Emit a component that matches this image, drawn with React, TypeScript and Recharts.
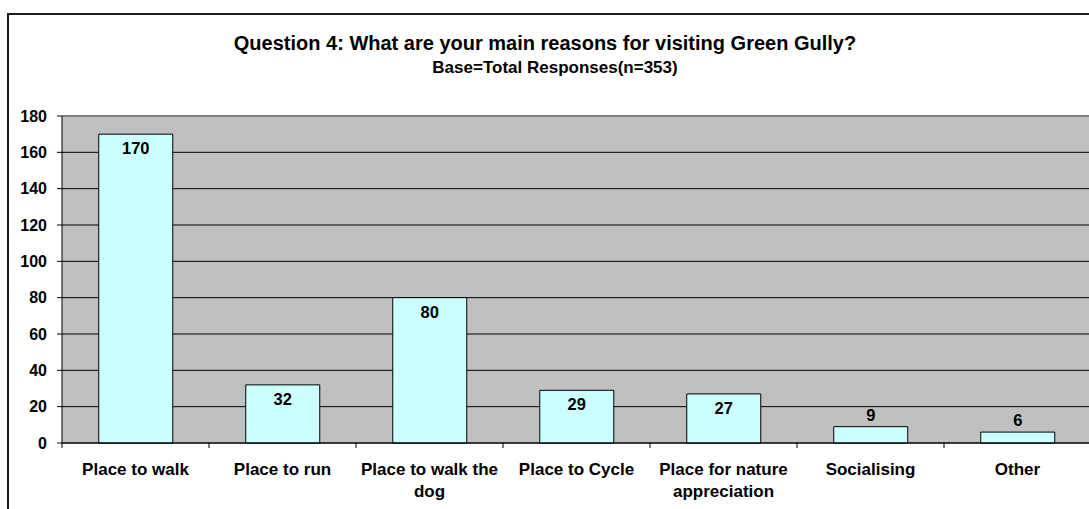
import React from "react"
import { Bar, BarChart, CartesianGrid, LabelList, ReferenceLine, Text, XAxis, YAxis } from "recharts"

const categories = [
  "Place to walk",
  "Place to run",
  "Place to walk the dog",
  "Place to Cycle",
  "Place for nature appreciation",
  "Socialising",
  "Other",
]
const responses = [170, 32, 80, 29, 27, 9, 6]
const yTicks = [0, 20, 40, 60, 80, 100, 120, 140, 160, 180]

const data = categories.map((name, i) => ({ name, total: responses[i] }))

const FONT = "'Liberation Sans', Arial, sans-serif"
const PLOT_LEFT = 62
const PLOT_RIGHT = 1091
const PLOT_BOTTOM = 443
const band = (PLOT_RIGHT - PLOT_LEFT) / categories.length

function CategoryTick(props: any) {
  const { x, payload } = props
  const bx = x - band / 2
  return (
    <g>
      <line x1={bx} y1={PLOT_BOTTOM} x2={bx} y2={PLOT_BOTTOM + 5} stroke="#000" />
      <Text
        x={x}
        y={PLOT_BOTTOM + 20}
        width={142}
        textAnchor="middle"
        verticalAnchor="start"
        lineHeight={22}
        fill="#000"
        style={{ fontSize: 17, fontWeight: "bold", fontFamily: FONT }}
      >
        {payload.value}
      </Text>
    </g>
  )
}

function ValueLabel(props: any) {
  const { x, y, width, height, value } = props
  // small bars get the label above, taller ones just inside the top
  const cy = height > 30 ? y + 14 : y - 12
  return (
    <text
      x={x + width / 2}
      y={cy}
      dy="0.36em"
      textAnchor="middle"
      fill="#000"
      style={{ fontSize: 16.5, fontWeight: "bold", fontFamily: FONT }}
    >
      {value}
    </text>
  )
}

export default function App() {
  return (
    <div style={{ position: "absolute", left: 0, top: 0, width: 1089, height: 509, overflow: "hidden", background: "#fff" }}>
      <div
        style={{
          position: "absolute",
          left: 7,
          top: 13,
          width: 1200,
          height: 600,
          borderTop: "2px solid #1c1c1c",
          borderLeft: "2px solid #1c1c1c",
        }}
      />
      <div style={{ position: "absolute", left: 0, top: 0 }}>
        <BarChart
          width={1100}
          height={509}
          data={data}
          margin={{ top: 116, right: 9, bottom: 6, left: 0 }}
          barCategoryGap="25%"
        >
          <CartesianGrid vertical={false} stroke="#000" fill="#c0c0c0" fillOpacity={1} />
          <ReferenceLine y={180} stroke="#808080" strokeWidth={2} />
          <XAxis
            dataKey="name"
            interval={0}
            height={60}
            tickLine={false}
            axisLine={{ stroke: "#000" }}
            tick={<CategoryTick />}
          />
          <YAxis
            width={62}
            domain={[0, 180]}
            ticks={yTicks}
            interval={0}
            tickSize={5}
            tickMargin={10}
            axisLine={{ stroke: "#000" }}
            tickLine={{ stroke: "#000" }}
            tick={{ fill: "#000", fontSize: 16, fontWeight: "bold", fontFamily: FONT }}
          />
          <Bar dataKey="total" fill="#ccffff" stroke="#000" strokeWidth={1} isAnimationActive={false}>
            <LabelList dataKey="total" content={<ValueLabel />} />
          </Bar>
        </BarChart>
      </div>
      <svg width={1089} height={509} style={{ position: "absolute", left: 0, top: 0, pointerEvents: "none" }}>
        <text x={545} y={50} textAnchor="middle" fill="#000" style={{ fontSize: 20, fontWeight: "bold", fontFamily: FONT }}>
          Question 4: What are your main reasons for visiting Green Gully?
        </text>
        <text x={555} y={73} textAnchor="middle" fill="#000" style={{ fontSize: 17, fontWeight: "bold", fontFamily: FONT }}>
          Base=Total Responses(n=353)
        </text>
      </svg>
    </div>
  )
}
